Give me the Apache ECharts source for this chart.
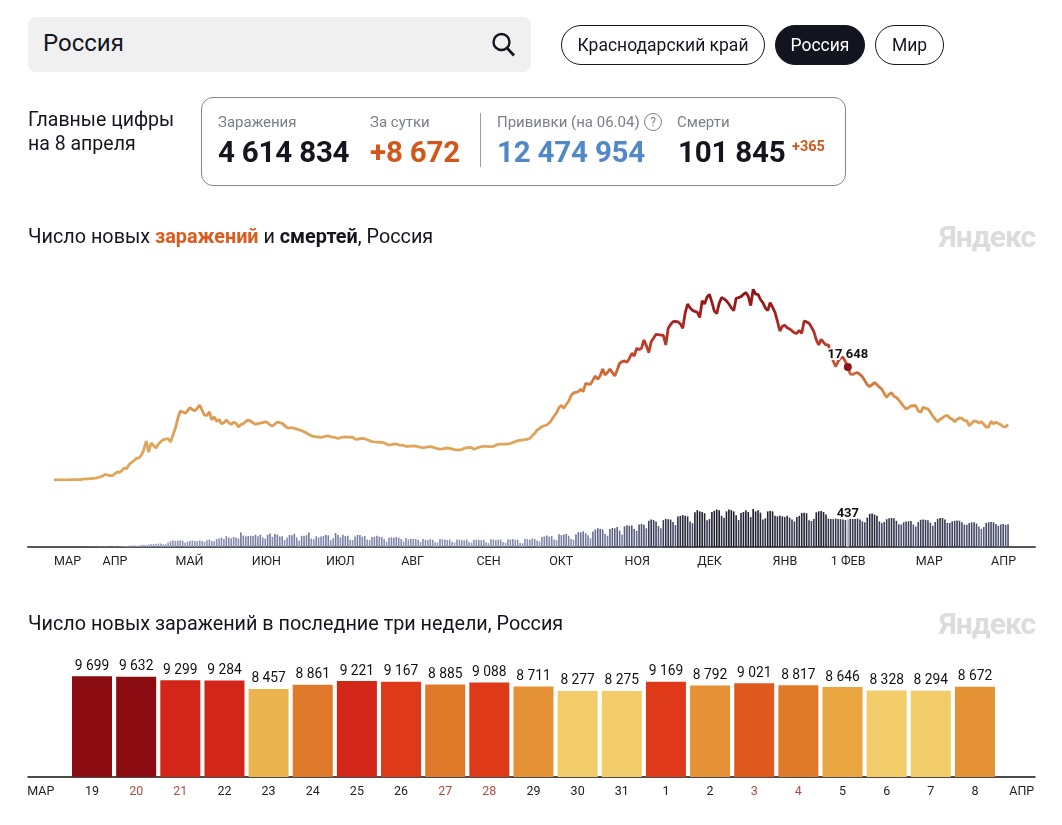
<!DOCTYPE html>
<html lang="ru">

<head>
    <meta charset="UTF-8">
    <title>Число новых заражений и смертей, Россия</title>
    <script src="https://cdn.jsdelivr.net/npm/echarts@6/dist/echarts.min.js"></script>
    <style>
        html, body { margin: 0; padding: 0; background: #fff; }
        body { position: relative; width: 1062px; height: 825px; overflow: hidden; font-family: Roboto, "Noto Sans", sans-serif; color: #14151f; }
        #main { position: absolute; left: 0; top: 0; width: 1062px; height: 825px; }
        .t { position: absolute; white-space: nowrap; z-index: 2; }
        .search { position: absolute; left: 28px; top: 17px; width: 503px; height: 55px; background: #f0f0f0; border-radius: 8px; z-index: 1; }
        .pill { position: absolute; top: 25px; height: 38px; line-height: 38px; border: 1px solid #14151f; border-radius: 20px; text-align: center; font-size: 17.5px; z-index: 2; }
        .pill.on { background: #12141f; color: #fff; }
        .card { position: absolute; left: 201px; top: 97px; width: 643px; height: 87px; border: 1px solid #7e878c; border-radius: 12px; z-index: 1; }
        .head { font-size: 15px; color: #7a7f88; top: 113px; }
        .num { font-size: 29.5px; font-weight: 700; top: 135px; letter-spacing: -0.2px; }
        .title { font-size: 19.8px; }
        .logo { font-size: 30px; font-weight: 700; color: #dcdcdc; letter-spacing: -1px; }
    </style>
</head>

<body>
    <!-- шапка -->
    <div class="search"></div>
    <div class="t" style="left:43px;top:29px;font-size:24px;">Россия</div>
    <svg class="t" style="left:490px;top:31px;" width="26" height="26" viewBox="0 0 26 26">
        <circle cx="11.5" cy="11" r="8" fill="none" stroke="#14151f" stroke-width="2.4"></circle>
        <line x1="17" y1="17" x2="24" y2="24.5" stroke="#14151f" stroke-width="2.6"></line>
    </svg>
    <div class="pill" style="left:561px;width:202px;">Краснодарский край</div>
    <div class="pill on" style="left:775px;width:88px;">Россия</div>
    <div class="pill" style="left:875px;width:67px;">Мир</div>

    <!-- главные цифры -->
    <div class="t" style="left:28px;top:108px;font-size:19.5px;line-height:24px;">Главные цифры<br>на 8 апреля</div>
    <div class="card"></div>
    <div class="t head" style="left:218px;">Заражения</div>
    <div class="t head" style="left:370px;">За сутки</div>
    <div class="t head" style="left:497px;">Прививки (на 06.04)</div>
    <div class="t" style="left:644px;top:113px;width:16px;height:16px;line-height:16px;border:1px solid #7a7f88;border-radius:50%;text-align:center;font-size:12px;color:#7a7f88;">?</div>
    <div class="t head" style="left:677px;">Смерти</div>
    <div class="t num" style="left:218px;">4 614 834</div>
    <div class="t num" style="left:370px;color:#d2571b;">+8 672</div>
    <div class="t" style="left:480px;top:113px;width:1px;height:54px;background:#9aa0a6;"></div>
    <div class="t num" style="left:497px;color:#5288c7;">12 474 954</div>
    <div class="t num" style="left:678px;">101 845</div>
    <div class="t" style="left:792px;top:138px;font-size:14.5px;font-weight:700;color:#d2571b;">+365</div>

    <!-- заголовки -->
    <div class="t title" style="left:28px;top:225px;">Число новых <b style="color:#dd5a1c">заражений</b> и <b>смертей</b>, Россия</div>
    <div class="t logo" style="left:939px;top:219px;">Яндекс</div>
    <div class="t title" style="left:28px;top:612px;">Число новых заражений в последние три недели, Россия</div>
    <div class="t logo" style="left:939px;top:606px;">Яндекс</div>

    <div id="main"></div>

    <script>
        // последние три недели, 19 марта - 8 апреля
        var recentDays = ['19', '20', '21', '22', '23', '24', '25', '26', '27', '28', '29', '30', '31', '1', '2', '3', '4', '5', '6', '7', '8'];
        var recentWeekend = ['20', '21', '27', '28', '3', '4'];
        var recentCases = [9699, 9632, 9299, 9284, 8457, 8861, 9221, 9167, 8885, 9088, 8711, 8277, 8275, 9169, 8792, 9021, 8817, 8646, 8328, 8294, 8672];

        // новые заражения по дням с 11 марта 2020
        var earlierCases = [
            10, 20, 10, 30, 20, 30, 30, 50, 50, 50,
            60, 70, 130, 160, 180, 230, 270, 300, 360, 500,
            600, 890, 760, 680, 670, 950, 1250, 1200, 1500, 1875,
            1790, 2450, 2770, 3050, 3400, 3450, 3900, 4700, 6100, 4350,
            5780, 5400, 5000, 5600, 6000, 6300, 6400, 6450, 5950, 7000,
            8100, 9600, 10750, 10650, 10400, 10800, 11300, 11000, 10800, 11200,
            11700, 10900, 10150, 10100, 10650, 9400, 9850, 9150, 9450, 8800,
            8950, 9400, 8950, 8700, 9000, 8850, 8300, 8650, 8800, 9150,
            9375, 9200, 8950, 8700, 8800, 8900, 8950, 9100, 8950, 8600,
            8440, 8750, 9060, 8950, 8850, 8500, 8180, 8100, 8200, 8070,
            7950, 7850, 7700, 7550, 7350, 7100, 6900, 6800, 6750, 6720,
            6670, 6750, 6850, 6875, 6750, 6700, 6600, 6500, 6600, 6700,
            6720, 6700, 6680, 6700, 6400, 6350, 6480, 6500, 6450, 6300,
            6150, 6000, 5950, 5920, 5900, 5880, 5800, 5600, 5470, 5520,
            5600, 5625, 5500, 5450, 5400, 5260, 5270, 5300, 5310, 5300,
            5200, 5100, 5050, 5100, 5180, 5200, 5130, 5000, 4900, 4840,
            4880, 4950, 5000, 4950, 4850, 4750, 4700, 4690, 4750, 4950,
            5060, 5100, 5050, 4800, 4950, 5100, 5200, 5260, 5250, 5200,
            5200, 5250, 5450, 5570, 5600, 5590, 5600, 5630, 5700, 5850,
            6000, 6150, 6200, 6250, 6300, 6400, 6500, 6900, 7290, 7800,
            8050, 8330, 8480, 8590, 8900, 9400, 10000, 10500, 11300, 11670,
            11200, 11800, 12300, 13200, 13600, 13700, 13800, 14170, 13800, 15100,
            15000, 14950, 15600, 16250, 15730, 16300, 17340, 16400, 16800, 17340,
            16800, 16250, 17200, 18230, 18500, 18600, 18380, 19000, 19800, 19370,
            20570, 20400, 20570, 21875, 21000, 19900, 21600, 22200, 22760, 22700,
            22650, 22600, 21100, 23700, 24300, 24740, 24800, 24700, 24400, 23700,
            26100, 27500, 26900, 26500, 26350, 26200, 25400, 28000, 27500, 28600,
            29000, 27800, 26400, 26000, 27600, 28500, 28300, 28000, 27500, 26900,
            26450, 28400, 28500, 28650, 29000, 29300, 28700, 27250, 29800, 29060,
            29000, 28200, 27700, 26900, 26450, 27700, 27000, 26200, 24800, 23280,
            24000, 24200, 23800, 23600, 23300, 23000, 22900, 23400, 22900, 24840,
            24700, 24480, 23900, 23170, 21900, 21100, 21980, 21500, 21100, 21100,
            19800, 18600, 17700, 18500, 19100, 19170, 18500, 17648, 16560, 16500,
            16700, 16770, 16500, 16140, 15500, 14900, 14580, 14900, 15200, 14900,
            14500, 14200, 13500, 12900, 13400, 13640, 13100, 12900, 12500, 12000,
            11500, 11100, 11300, 11560, 11600, 11600, 10800, 10570, 11350, 11200,
            11100, 10600, 10000, 9500, 9100, 9500, 9700, 10000, 10100, 9700,
            9480, 9100, 9500
        ];
        var cases = earlierCases.concat(recentCases);

        // смерти по дням, те же даты
        var deaths = [
            0, 1, 0, 0, 0, 0, 0, 0, 0, 0,
            0, 1, 0, 1, 3, 3, 4, 4, 5, 8,
            8, 7, 8, 4, 3, 7, 6, 9, 11, 18,
            18, 22, 24, 28, 20, 22, 36, 38, 30, 41,
            44, 48, 50, 57, 58, 45, 47, 72, 95, 105,
            96, 101, 108, 100, 70, 88, 98, 104, 95, 94,
            107, 96, 86, 107, 119, 93, 94, 126, 135, 150,
            127, 174, 150, 138, 161, 153, 135, 232, 182, 169,
            174, 181, 178, 196, 171, 197, 153, 134, 197, 216,
            162, 208, 198, 169, 171, 111, 147, 193, 190, 213,
            154, 104, 178, 181, 188, 232, 136, 125, 171, 153,
            168, 176, 197, 186, 110, 139, 222, 192, 153, 195,
            174, 180, 118, 113, 170, 195, 191, 165, 176, 121,
            110, 161, 166, 180, 165, 161, 129, 85, 150, 155,
            147, 160, 150, 129, 90, 144, 119, 130, 128, 127,
            115, 80, 128, 117, 108, 124, 116, 77, 75, 130,
            120, 122, 114, 119, 85, 72, 121, 116, 110, 108,
            120, 80, 70, 115, 118, 112, 110, 115, 75, 62,
            125, 120, 110, 118, 119, 80, 68, 125, 120, 128,
            115, 119, 70, 60, 130, 125, 115, 135, 130, 105,
            90, 160, 170, 185, 165, 175, 120, 110, 205, 190,
            199, 210, 180, 130, 115, 205, 240, 235, 250, 220,
            190, 140, 250, 280, 300, 290, 280, 210, 180, 290,
            305, 300, 320, 265, 200, 330, 350, 340, 345, 290,
            260, 360, 368, 355, 300, 420, 440, 430, 410, 335,
            300, 430, 450, 445, 440, 400, 350, 490, 500, 510,
            500, 490, 410, 380, 555, 590, 570, 560, 540, 430,
            450, 560, 580, 600, 587, 500, 470, 570, 600, 590,
            570, 510, 430, 545, 560, 590, 560, 480, 608, 570,
            590, 550, 440, 460, 570, 575, 570, 500, 490, 500,
            490, 480, 500, 470, 440, 410, 480, 500, 545, 550,
            540, 430, 415, 450, 555, 570, 575, 560, 520, 455,
            450, 445, 455, 450, 445, 440, 430, 437, 455, 450,
            460, 455, 440, 410, 395, 470, 530, 535, 520, 500,
            410, 385, 400, 445, 460, 465, 460, 420, 365, 360,
            395, 410, 410, 415, 360, 330, 400, 435, 440, 435,
            430, 390, 340, 400, 450, 465, 465, 440, 385, 385,
            410, 420, 425, 420, 395, 360, 355, 385, 395, 395,
            375, 330, 290, 320, 385, 395, 400, 395, 370, 340,
            360, 370, 355, 365
        ];

        var monthNames = ['МАР', 'АПР', 'МАЙ', 'ИЮН', 'ИЮЛ', 'АВГ', 'СЕН', 'ОКТ', 'НОЯ', 'ДЕК', 'ЯНВ', '1 ФЕВ', 'МАР', 'АПР'];
        var monthDays = [0, 20, 50, 81.5, 112, 143, 174, 204, 235, 265, 296, 320, 355, 386];
        var hoverDay = 327; // 1 февраля

        var recentTicks = [-1.16].concat(recentDays.map(function (d, i) { return i; }), [21.06]);
        var recentTickNames = ['МАР'].concat(recentDays, ['АПР']);

        function spaced(v) {
            return String(v).replace(/\B(?=(\d{3})+$)/g, ' ');
        }
        function pairs(arr) {
            return arr.map(function (v, i) { return [i, v]; });
        }

        var myChart = echarts.init(document.getElementById('main'));
        var option = {
            animation: false,
            textStyle: { fontFamily: 'Roboto' },
            grid: [
                { left: 28, width: 1007, top: 270, height: 210 },
                { left: 28, width: 1007, top: 497, height: 50 },
                { left: 28, width: 1007, top: 650, height: 127 }
            ],
            xAxis: [
                { gridIndex: 0, type: 'value', min: -10.71, max: 404.1, show: false },
                {
                    gridIndex: 1, type: 'value', min: -10.71, max: 404.1,
                    splitLine: { show: false },
                    axisTick: { show: false },
                    axisLine: { lineStyle: { color: '#555', width: 2 } },
                    axisLabel: {
                        customValues: monthDays,
                        align: 'left',
                        margin: 8,
                        fontSize: 12.5,
                        color: '#222',
                        formatter: function (value) {
                            return monthNames[monthDays.indexOf(value)];
                        }
                    }
                },
                {
                    gridIndex: 2, type: 'value', min: -1.45, max: 21.36,
                    splitLine: { show: false },
                    axisTick: { show: false },
                    axisLine: { lineStyle: { color: '#111', width: 1.5 } },
                    axisLabel: {
                        customValues: recentTicks,
                        margin: 8,
                        fontSize: 12.5,
                        color: '#222',
                        rich: { red: { color: '#b5493f', fontSize: 12.5 } },
                        formatter: function (value) {
                            var name = recentTickNames[recentTicks.indexOf(value)];
                            return recentWeekend.indexOf(name) >= 0 ? '{red|' + name + '}' : name;
                        }
                    }
                }
            ],
            yAxis: [
                { gridIndex: 0, type: 'value', min: 0, max: 32812, show: false },
                { gridIndex: 1, type: 'value', min: 0, max: 800, show: false },
                { gridIndex: 2, type: 'value', min: 0, max: 12212, show: false }
            ],
            visualMap: [
                {
                    show: false, type: 'continuous', seriesIndex: 0, dimension: 1, min: 0, max: 32000,
                    inRange: { color: ['#dfa65a', '#dfa65a', '#dc9148', '#c5482a', '#a32020', '#7f0e12'] }
                },
                {
                    show: false, type: 'continuous', seriesIndex: 2, dimension: 1, min: 0, max: 800,
                    inRange: { color: ['#a4a9cb', '#7f85ab', '#585c7e', '#2b2c40', '#14141f', '#101018'] }
                },
                {
                    show: false, type: 'piecewise', seriesIndex: 4, dimension: 1,
                    pieces: [
                        { lte: 8400, color: '#f1cc69' },
                        { gt: 8400, lte: 8500, color: '#eab54f' },
                        { gt: 8500, lte: 8670, color: '#e8a540' },
                        { gt: 8670, lte: 8800, color: '#e59135' },
                        { gt: 8800, lte: 8900, color: '#e07a2b' },
                        { gt: 8900, lte: 9050, color: '#e05a20' },
                        { gt: 9050, lte: 9200, color: '#de3a1a' },
                        { gt: 9200, lte: 9400, color: '#d22618' },
                        { gt: 9400, color: '#8b0d12' }
                    ]
                }
            ],
            series: [
                {
                    name: 'Заражения',
                    type: 'line',
                    xAxisIndex: 0,
                    yAxisIndex: 0,
                    showSymbol: false,
                    lineStyle: { width: 2.8 },
                    data: pairs(cases)
                },
                {
                    name: 'Заражения, выбранный день',
                    type: 'scatter',
                    xAxisIndex: 0,
                    yAxisIndex: 0,
                    symbolSize: 8,
                    z: 5,
                    itemStyle: { color: '#8a1416', opacity: 1 },
                    label: {
                        show: true,
                        position: 'top',
                        distance: 2,
                        fontSize: 13,
                        fontWeight: 'bold',
                        color: '#111',
                        textBorderColor: 'rgba(255,255,255,0.85)',
                        textBorderWidth: 4,
                        formatter: function (p) { return spaced(p.value[1]); }
                    },
                    data: [[hoverDay, cases[hoverDay]]]
                },
                {
                    name: 'Смерти',
                    type: 'bar',
                    xAxisIndex: 1,
                    yAxisIndex: 1,
                    barWidth: 1.6,
                    data: pairs(deaths)
                },
                {
                    name: 'Смерти, выбранный день',
                    type: 'bar',
                    xAxisIndex: 1,
                    yAxisIndex: 1,
                    barGap: '-100%',
                    barWidth: 1.6,
                    z: 5,
                    itemStyle: { color: '#c8c8cc' },
                    label: {
                        show: true,
                        position: 'top',
                        distance: -1,
                        fontSize: 13,
                        fontWeight: 'bold',
                        color: '#111',
                        textBorderColor: 'rgba(255,255,255,0.85)',
                        textBorderWidth: 4,
                        formatter: function (p) { return spaced(p.value[1]); }
                    },
                    data: [[hoverDay, deaths[hoverDay]]]
                },
                {
                    name: 'Последние три недели',
                    type: 'bar',
                    xAxisIndex: 2,
                    yAxisIndex: 2,
                    barWidth: 40,
                    label: {
                        show: true,
                        position: 'top',
                        distance: 3,
                        fontSize: 13.8,
                        color: '#111',
                        formatter: function (p) { return spaced(p.value[1]); }
                    },
                    data: pairs(recentCases)
                }
            ]
        };
        myChart.setOption(option);
        window.addEventListener('resize', function () {
            myChart.resize();
        });
    </script>
</body>

</html>
